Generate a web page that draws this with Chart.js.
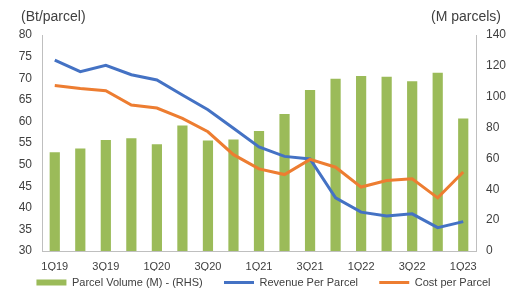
<!DOCTYPE html>
<html>
<head>
<meta charset="utf-8">
<script src="https://cdn.jsdelivr.net/npm/chart.js@4"></script>
<style>
html,body{margin:0;padding:0;background:#fff;}
#wrap{width:521px;height:303px;position:relative;}
</style>
</head>
<body>
<div id="wrap"><canvas id="c" width="521" height="303"></canvas></div>
<script>
const categories = ['1Q19','2Q19','3Q19','4Q19','1Q20','2Q20','3Q20','4Q20','1Q21','2Q21','3Q21','4Q21','1Q22','2Q22','3Q22','4Q22','1Q23'];
const parcelVolume = [64, 66.5, 72, 73, 69.2, 81.3, 71.6, 72.3, 77.8, 88.8, 104.3, 111.6, 113.5, 113, 110, 115.5, 85.8];
const revenuePerParcel = [74.2, 71.5, 73, 70.8, 69.6, 66.1, 62.7, 58.4, 54.1, 51.9, 51.3, 42.3, 39, 38.1, 38.6, 35.4, 36.8];
const costPerParcel = [68.3, 67.6, 67.1, 63.8, 63.1, 60.7, 57.6, 52.3, 49, 47.7, 51.2, 49.4, 44.8, 46.3, 46.7, 42.3, 48.3];
const leftTitle = '(Bt/parcel)';
const rightTitle = '(M parcels)';

const FONT = 'Liberation Sans, Arial, sans-serif';
const TXT = '#404040';
const AX = '#bfbfbf';

const titles = {
  id: 'axisTitles',
  afterDraw(chart) {
    const ctx = chart.ctx;
    ctx.save();
    ctx.fillStyle = TXT;
    ctx.font = '14px ' + FONT;
    ctx.textBaseline = 'middle';
    ctx.textAlign = 'left';
    ctx.fillText(leftTitle, 21, 17);
    ctx.textAlign = 'right';
    ctx.fillText(rightTitle, 501, 17);
    ctx.restore();
  }
};

new Chart(document.getElementById('c'), {
  data: {
    labels: categories,
    datasets: [
      {
        type: 'bar',
        label: 'Parcel Volume (M) - (RHS)',
        data: parcelVolume,
        yAxisID: 'y1',
        backgroundColor: '#9bbb59',
        borderWidth: 0,
        categoryPercentage: 1,
        barPercentage: 0.4,
        order: 2,
        pointStyle: 'rect'
      },
      {
        type: 'line',
        label: 'Revenue Per Parcel',
        data: revenuePerParcel,
        yAxisID: 'y',
        borderColor: '#4472c4',
        backgroundColor: '#4472c4',
        borderWidth: 3,
        pointRadius: 0,
        tension: 0,
        order: 1,
        pointStyle: 'line'
      },
      {
        type: 'line',
        label: 'Cost per Parcel',
        data: costPerParcel,
        yAxisID: 'y',
        borderColor: '#ed7d31',
        backgroundColor: '#ed7d31',
        borderWidth: 3,
        pointRadius: 0,
        tension: 0,
        order: 0,
        pointStyle: 'line'
      }
    ]
  },
  options: {
    responsive: false,
    animation: false,
    layout: { padding: { top: 35, left: 6, right: 0, bottom: 5 } },
    plugins: {
      tooltip: { enabled: false },
      legend: {
        position: 'bottom',
        labels: {
          usePointStyle: true,
          pointStyleWidth: 30,
          boxHeight: 6,
          padding: 6,
          color: TXT,
          font: { family: FONT, size: 11 },
          sort: (a, b) => a.datasetIndex - b.datasetIndex,
          generateLabels: function(chart) {
            const items = Chart.defaults.plugins.legend.labels.generateLabels(chart);
            items.forEach(it => {
              if (it.datasetIndex < 2) it.text = it.text + '     ';
            });
            return items;
          }
        }
      }
    },
    scales: {
      x: {
        grid: { display: false, drawTicks: false },
        border: { display: true, color: AX },
        ticks: {
          autoSkip: false,
          maxRotation: 0,
          padding: 9,
          color: TXT,
          font: { family: FONT, size: 11 },
          callback: function(v, i) { return i % 2 === 0 ? categories[i] : ''; }
        },
        afterFit: s => { s.height = 20; }
      },
      y: {
        position: 'left',
        min: 30, max: 80,
        grid: { display: false, drawOnChartArea: false, drawTicks: true, tickLength: 4, color: AX },
        border: { display: true, color: AX },
        ticks: { stepSize: 5, padding: 6, color: TXT, font: { family: FONT, size: 12 } },
        afterFit: s => { s.width = 36; }
      },
      y1: {
        position: 'right',
        min: 0, max: 140,
        grid: { display: false, drawOnChartArea: false, drawTicks: true, tickLength: 4, color: AX },
        border: { display: true, color: AX },
        ticks: { stepSize: 20, padding: 6, color: TXT, font: { family: FONT, size: 12 } },
        afterFit: s => { s.width = 45; }
      }
    }
  },
  plugins: [titles]
});
</script>
</body>
</html>
